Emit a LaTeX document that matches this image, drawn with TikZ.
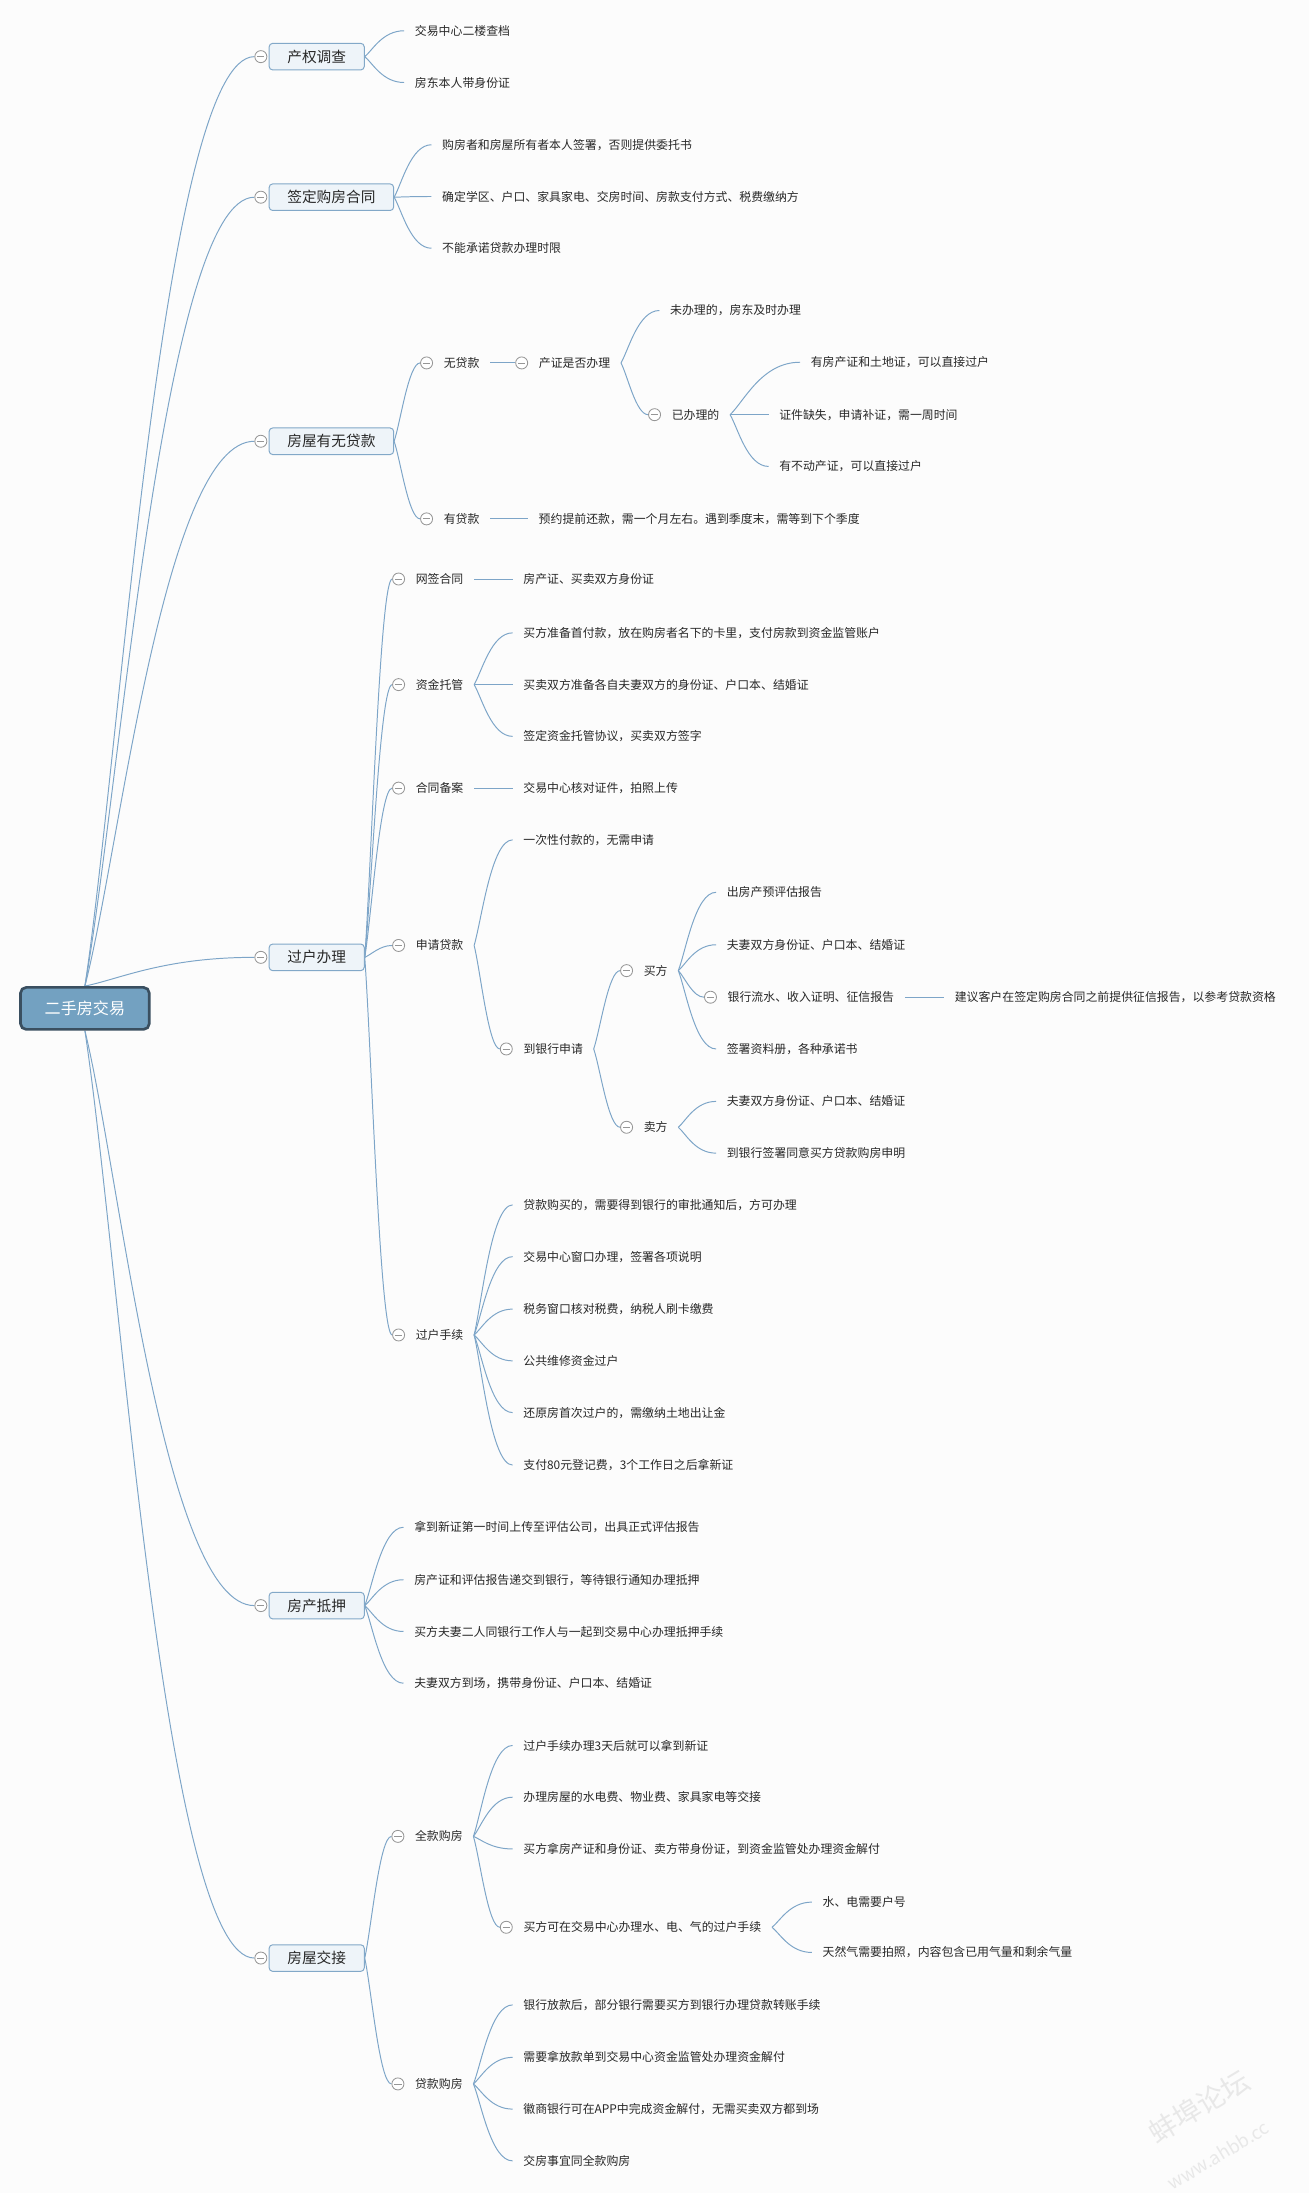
\documentclass[tikz,border=0pt]{standalone}
\usepackage{fontspec}
\setmainfont{Noto Sans CJK SC}
\usetikzlibrary{positioning, calc, backgrounds}
\definecolor{bgpaper}{RGB}{252, 252, 252}
\definecolor{linkblue}{RGB}{125, 165, 200}
\definecolor{topicfill}{RGB}{238, 244, 249}
\definecolor{topicline}{RGB}{130, 168, 200}
\definecolor{rootfill}{RGB}{115, 161, 193}
\definecolor{rootline}{RGB}{58, 79, 96}
\definecolor{foldgray}{RGB}{150, 150, 150}
\definecolor{textdark}{RGB}{40, 40, 40}
\tikzstyle{rootbox} = [rectangle, rounded corners=4pt, draw=rootline, fill=rootfill, line width=1.9pt,
                       minimum width=92pt, minimum height=30pt, text=white, font=\fontsize{11.5}{13}\selectfont]
\tikzstyle{topic} = [rectangle, rounded corners=2.5pt, draw=topicline, fill=topicfill, line width=0.7pt,
                     inner xsep=13pt, minimum height=19pt, text=textdark, font=\fontsize{10.5}{12}\selectfont]
\tikzstyle{leaf} = [anchor=west, inner xsep=7.5pt, inner ysep=2pt, text=textdark, font=\fontsize{8.5}{10}\selectfont]
\tikzstyle{fold} = [circle, draw=foldgray, fill=white, line width=0.6pt, minimum size=8.6pt, inner sep=0pt,
                    path picture={\draw[foldgray, line width=0.6pt] ([xshift=-2.6pt]path picture bounding box.center) -- ([xshift=2.6pt]path picture bounding box.center);}]
\tikzstyle{link} = [draw=linkblue, line width=0.7pt,
                    to path={let \p1=(\tikztostart), \p2=(\tikztotarget) in
                      .. controls ({\x1+0.2*(\x2-\x1)}, {\y1+0.25*(\y2-\y1)}) and ({\x1+0.45*(\x2-\x1)}, \y2) .. (\tikztotarget)}]
\tikzstyle{watermark} = [rotate=31, inner sep=0pt, text=black!9]

\begin{document}
\begin{tikzpicture}[x=1pt, y=-1pt]
\useasboundingbox (0,0) rectangle (936,1568);

% Root
\node[rootbox] (root) at (60.7, 721) {二手房交易};

% Branch 1: 产权调查
\node[fold] (f-survey) at (186.5, 40.5) {};
\node[topic, right=1pt of f-survey] (survey) {产权调查};
\node[leaf] (survey1) at (289, 22) {交易中心二楼查档};
\node[leaf] (survey2) at (289, 59) {房东本人带身份证};

% Branch 2: 签定购房合同
\node[fold] (f-contract) at (186.5, 141) {};
\node[topic, right=1pt of f-contract] (contract) {签定购房合同};
\node[leaf] (contract1) at (308.5, 103.5) {购房者和房屋所有者本人签署，否则提供委托书};
\node[leaf] (contract2) at (308.5, 140.5) {确定学区、户口、家具家电、交房时间、房款支付方式、税费缴纳方};
\node[leaf] (contract3) at (308.5, 177.5) {不能承诺贷款办理时限};

% Branch 3: 房屋有无贷款
\node[fold] (f-loanchk) at (186.5, 315.5) {};
\node[topic, right=1pt of f-loanchk] (loanchk) {房屋有无贷款};
\node[fold] (f-noloan) at (305, 259.5) {};
\node[leaf, right=0pt of f-noloan] (noloan) {无贷款};
\node[fold] (f-cert) at (373, 259.5) {};
\node[leaf, right=0pt of f-cert] (cert) {产证是否办理};
\node[leaf] (undone) at (471.5, 222) {未办理的，房东及时办理};
\node[fold] (f-done) at (468, 296.5) {};
\node[leaf, right=0pt of f-done] (done) {已办理的};
\node[leaf] (done1) at (572, 259) {有房产证和土地证，可以直接过户};
\node[leaf] (done2) at (549.5, 296.5) {证件缺失，申请补证，需一周时间};
\node[leaf] (done3) at (549.5, 333.5) {有不动产证，可以直接过户};
\node[fold] (f-hasloan) at (305, 371) {};
\node[leaf, right=0pt of f-hasloan] (hasloan) {有贷款};
\node[leaf] (repay) at (377.5, 371) {预约提前还款，需一个月左右。遇到季度末，需等到下个季度};

% Branch 4: 过户办理
\node[fold] (f-transfer) at (186.5, 684.5) {};
\node[topic, right=1pt of f-transfer] (transfer) {过户办理};
\node[fold] (f-wq) at (285, 414) {};
\node[leaf, right=0pt of f-wq] (wq) {网签合同};
\node[leaf] (wq1) at (366.5, 414) {房产证、买卖双方身份证};
\node[fold] (f-zj) at (285, 489.5) {};
\node[leaf, right=0pt of f-zj] (zj) {资金托管};
\node[leaf] (zj1) at (366.5, 452.5) {买方准备首付款，放在购房者名下的卡里，支付房款到资金监管账户};
\node[leaf] (zj2) at (366.5, 489.5) {买卖双方准备各自夫妻双方的身份证、户口本、结婚证};
\node[leaf] (zj3) at (366.5, 526.5) {签定资金托管协议，买卖双方签字};
\node[fold] (f-ba) at (285, 563.5) {};
\node[leaf, right=0pt of f-ba] (ba) {合同备案};
\node[leaf] (ba1) at (366.5, 563.5) {交易中心核对证件，拍照上传};
\node[fold] (f-sq) at (285, 676) {};
\node[leaf, right=0pt of f-sq] (sq) {申请贷款};
\node[leaf] (sq1) at (366.5, 600.5) {一次性付款的，无需申请};
\node[fold] (f-yh) at (362, 750) {};
\node[leaf, right=0pt of f-yh] (yh) {到银行申请};
\node[fold] (f-buy) at (448, 694) {};
\node[leaf, right=0pt of f-buy] (buy) {买方};
\node[leaf] (buy1) at (512, 638) {出房产预评估报告};
\node[leaf] (buy2) at (512, 675.5) {夫妻双方身份证、户口本、结婚证};
\node[fold] (f-buy3) at (508, 713) {};
\node[leaf, right=0pt of f-buy3] (buy3) {银行流水、收入证明、征信报告};
\node[leaf] (buy3a) at (675, 713) {建议客户在签定购房合同之前提供征信报告，以参考贷款资格};
\node[leaf] (buy4) at (512, 750) {签署资料册，各种承诺书};
\node[fold] (f-sell) at (448, 806) {};
\node[leaf, right=0pt of f-sell] (sell) {卖方};
\node[leaf] (sell1) at (512, 787.5) {夫妻双方身份证、户口本、结婚证};
\node[leaf] (sell2) at (512, 824.5) {到银行签署同意买方贷款购房申明};
\node[fold] (f-gh) at (285, 954.5) {};
\node[leaf, right=0pt of f-gh] (gh) {过户手续};
\node[leaf] (gh1) at (366.5, 861.5) {贷款购买的，需要得到银行的审批通知后，方可办理};
\node[leaf] (gh2) at (366.5, 898.5) {交易中心窗口办理，签署各项说明};
\node[leaf] (gh3) at (366.5, 936) {税务窗口核对税费，纳税人刷卡缴费};
\node[leaf] (gh4) at (366.5, 973) {公共维修资金过户};
\node[leaf] (gh5) at (366.5, 1010) {还原房首次过户的，需缴纳土地出让金};
\node[leaf] (gh6) at (366.5, 1047.5) {支付80元登记费，3个工作日之后拿新证};

% Branch 5: 房产抵押
\node[fold] (f-mortgage) at (186.5, 1148) {};
\node[topic, right=1pt of f-mortgage] (mortgage) {房产抵押};
\node[leaf] (mg1) at (288.5, 1092) {拿到新证第一时间上传至评估公司，出具正式评估报告};
\node[leaf] (mg2) at (288.5, 1129.5) {房产证和评估报告递交到银行，等待银行通知办理抵押};
\node[leaf] (mg3) at (288.5, 1166.5) {买方夫妻二人同银行工作人与一起到交易中心办理抵押手续};
\node[leaf] (mg4) at (288.5, 1203.5) {夫妻双方到场，携带身份证、户口本、结婚证};

% Branch 6: 房屋交接
\node[fold] (f-handover) at (186.5, 1400) {};
\node[topic, right=1pt of f-handover] (handover) {房屋交接};
\node[fold] (f-full) at (284.5, 1313) {};
\node[leaf, right=0pt of f-full] (full) {全款购房};
\node[leaf] (full1) at (366.5, 1248) {过户手续办理3天后就可以拿到新证};
\node[leaf] (full2) at (366.5, 1285) {办理房屋的水电费、物业费、家具家电等交接};
\node[leaf] (full3) at (366.5, 1322) {买方拿房产证和身份证、卖方带身份证，到资金监管处办理资金解付};
\node[fold] (f-full4) at (362, 1378) {};
\node[leaf, right=0pt of f-full4] (full4) {买方可在交易中心办理水、电、气的过户手续};
\node[leaf] (full4a) at (580.5, 1360) {水、电需要户号};
\node[leaf] (full4b) at (580.5, 1396) {天然气需要拍照，内容包含已用气量和剩余气量};
\node[fold] (f-loan) at (284.5, 1490) {};
\node[leaf, right=0pt of f-loan] (loan) {贷款购房};
\node[leaf] (loan1) at (366.5, 1433.5) {银行放款后，部分银行需要买方到银行办理贷款转账手续};
\node[leaf] (loan2) at (366.5, 1471) {需要拿放款单到交易中心资金监管处办理资金解付};
\node[leaf] (loan3) at (366.5, 1508) {徽商银行可在APP中完成资金解付，无需买卖双方都到场};
\node[leaf] (loan4) at (366.5, 1545) {交房事宜同全款购房};

% Watermark
\node[watermark, font=\fontsize{20}{20}\selectfont] (wm1) at (857, 1506) {蚌埠论坛};
\node[watermark, font=\fontsize{13}{13}\selectfont\itshape] (wm2) at (871, 1541) {www.ahbb.cc};

\begin{pgfonlayer}{background}
\fill[bgpaper] (0,0) rectangle (936,1568);

% Root links
\foreach \t in {survey, contract, loanchk, transfer}
  \draw[link] (root.north) to (f-\t);
\foreach \t in {mortgage, handover}
  \draw[link] (root.south) to (f-\t);

% Links 产权调查 / 签定购房合同
\foreach \k in {1,2}
  \draw[link] (survey.east) to (survey\k.west);
\foreach \k in {1,2,3}
  \draw[link] (contract.east) to (contract\k.west);

% Links 房屋有无贷款
\draw[link] (loanchk.east) to (f-noloan);
\draw[link] (loanchk.east) to (f-hasloan);
\draw[link] (noloan.east) to (f-cert);
\draw[link] (cert.east) to (undone.west);
\draw[link] (cert.east) to (f-done);
\foreach \k in {1,2,3}
  \draw[link] (done.east) to (done\k.west);
\draw[link] (hasloan.east) to (repay.west);

% Links 过户办理
\foreach \t in {wq, zj, ba, sq, gh}
  \draw[link] (transfer.east) to (f-\t);
\draw[link] (wq.east) to (wq1.west);
\foreach \k in {1,2,3}
  \draw[link] (zj.east) to (zj\k.west);
\draw[link] (ba.east) to (ba1.west);
\draw[link] (sq.east) to (sq1.west);
\draw[link] (sq.east) to (f-yh);
\draw[link] (yh.east) to (f-buy);
\draw[link] (yh.east) to (f-sell);
\draw[link] (buy.east) to (buy1.west);
\draw[link] (buy.east) to (buy2.west);
\draw[link] (buy.east) to (f-buy3);
\draw[link] (buy.east) to (buy4.west);
\draw[link] (buy3.east) to (buy3a.west);
\draw[link] (sell.east) to (sell1.west);
\draw[link] (sell.east) to (sell2.west);
\foreach \k in {1,...,6}
  \draw[link] (gh.east) to (gh\k.west);

% Links 房产抵押
\foreach \k in {1,...,4}
  \draw[link] (mortgage.east) to (mg\k.west);

% Links 房屋交接
\draw[link] (handover.east) to (f-full);
\draw[link] (handover.east) to (f-loan);
\foreach \k in {1,2,3}
  \draw[link] (full.east) to (full\k.west);
\draw[link] (full.east) to (f-full4);
\draw[link] (full4.east) to (full4a.west);
\draw[link] (full4.east) to (full4b.west);
\foreach \k in {1,...,4}
  \draw[link] (loan.east) to (loan\k.west);
\end{pgfonlayer}

\end{tikzpicture}
\end{document}
